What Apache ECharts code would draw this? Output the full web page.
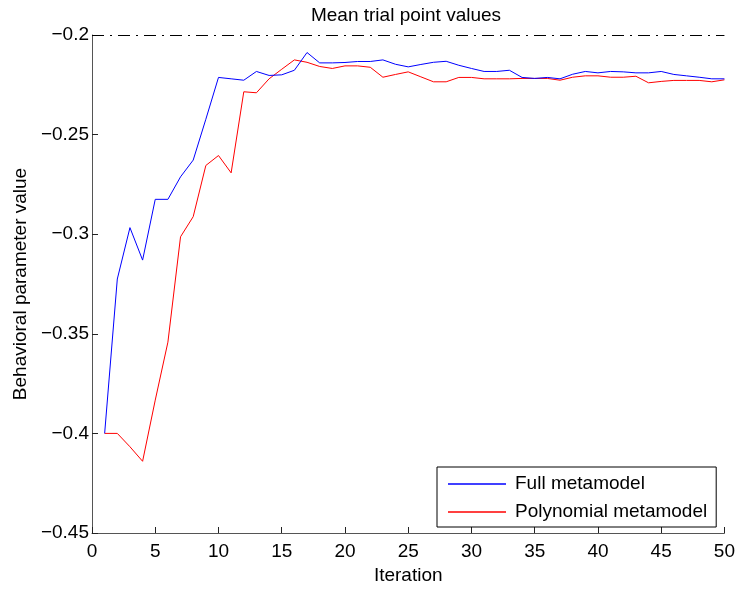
<!DOCTYPE html>
<html>
<head>
<meta charset="utf-8">
<script src="https://cdn.jsdelivr.net/npm/echarts@6/dist/echarts.min.js"></script>
<style>
  html, body { margin: 0; padding: 0; background: #fff; }
  #chart { width: 738px; height: 590px; }
</style>
</head>
<body>
<div id="chart"></div>
<script>
// Iterations 1..50
const iterations = Array.from({ length: 50 }, (_, i) => i + 1);

// Mean trial point value per iteration, full metamodel
const fullMetamodel = [
  -0.400, -0.3225, -0.2967, -0.3130, -0.2825, -0.2825, -0.2712, -0.2628, -0.2423, -0.2213,
  -0.2220, -0.2227, -0.2183, -0.2203, -0.2200, -0.2177, -0.2088, -0.2140, -0.2140, -0.2138,
  -0.2133, -0.2133, -0.2125, -0.2147, -0.2160, -0.2148, -0.2137, -0.2132, -0.2152, -0.2168,
  -0.2183, -0.2183, -0.2177, -0.2213, -0.2218, -0.2213, -0.2220, -0.2197, -0.2183, -0.2190,
  -0.2183, -0.2185, -0.2190, -0.2190, -0.2183, -0.2198, -0.2205, -0.2212, -0.2220, -0.2220
];

// Mean trial point value per iteration, polynomial metamodel
const polyMetamodel = [
  -0.400, -0.400, -0.4067, -0.4140, -0.3833, -0.3542, -0.3013, -0.2912, -0.2655, -0.2605,
  -0.2692, -0.2285, -0.2290, -0.2220, -0.2172, -0.2125, -0.2137, -0.2158, -0.2168, -0.2155,
  -0.2155, -0.2162, -0.2212, -0.2198, -0.2185, -0.2210, -0.2235, -0.2235, -0.2213, -0.2213,
  -0.2220, -0.2220, -0.2220, -0.2218, -0.2218, -0.2218, -0.2227, -0.2212, -0.2205, -0.2205,
  -0.2212, -0.2212, -0.2207, -0.2240, -0.2233, -0.2228, -0.2228, -0.2228, -0.2235, -0.2225
];

// Dash-dot reference level
const referenceLevel = -0.2;

const seriesNames = ['Full metamodel', 'Polynomial metamodel'];

const FONT = 'Liberation Sans, Arial, Helvetica, sans-serif';
const FS = 19;
const pairs = vals => iterations.map((x, i) => [x, vals[i]]);
const fmtNum = v => String(parseFloat(v.toFixed(2))).replace('-', '\u2212');

const chart = echarts.init(document.getElementById('chart'), null, { renderer: 'canvas' });

chart.setOption({
  animation: false,
  backgroundColor: '#ffffff',
  title: {
    text: 'Mean trial point values',
    left: 401, top: 1, textAlign: 'center',
    textStyle: { fontFamily: FONT, fontSize: FS, fontWeight: 'normal', color: '#000' }
  },
  grid: { left: 92, right: 13, top: 35, bottom: 56, containLabel: false },
  xAxis: {
    type: 'value', min: 0, max: 50, interval: 5,
    name: 'Iteration', nameLocation: 'middle', nameGap: 33,
    nameTextStyle: { fontFamily: FONT, fontSize: FS, color: '#000' },
    axisLine: { show: true, lineStyle: { color: '#555', width: 1 } },
    axisTick: { show: true, inside: true, length: 6, lineStyle: { color: '#222' } },
    axisLabel: { fontFamily: FONT, fontSize: FS, color: '#000', margin: 9 },
    splitLine: { show: false }
  },
  yAxis: {
    type: 'value', min: -0.45, max: -0.2, interval: 0.05,
    name: 'Behavioral parameter value', nameLocation: 'middle', nameGap: 61, nameRotate: 90,
    nameTextStyle: { fontFamily: FONT, fontSize: FS, color: '#000' },
    axisLine: { show: true, lineStyle: { color: '#555', width: 1 } },
    axisTick: { show: true, inside: true, length: 6, lineStyle: { color: '#222' } },
    axisLabel: { fontFamily: FONT, fontSize: FS, color: '#000', margin: 3, formatter: fmtNum },
    splitLine: { show: false }
  },
  legend: {
    orient: 'vertical',
    left: 437, top: 467,
    data: seriesNames,
    icon: 'rect',
    backgroundColor: '#fff',
    borderColor: '#000', borderWidth: 1,
    padding: [6, 9, 4, 11],
    itemGap: 6,
    itemWidth: 58, itemHeight: 1.3,
    textStyle: { fontFamily: FONT, fontSize: FS, color: '#000', padding: [0, 0, 0, 4], lineHeight: 22 }
  },
  series: [
    {
      name: seriesNames[0], type: 'line', data: pairs(fullMetamodel),
      symbol: 'none', color: '#0000ff', lineStyle: { width: 1, color: '#0000ff' },
      markLine: {
        silent: true, symbol: 'none', label: { show: false },
        lineStyle: { color: '#000', width: 1, type: [12, 6, 2, 6] },
        data: [{ yAxis: referenceLevel }]
      },
      z: 3
    },
    {
      name: seriesNames[1], type: 'line', data: pairs(polyMetamodel),
      symbol: 'none', color: '#ff0000', lineStyle: { width: 1, color: '#ff0000' },
      z: 2
    }
  ]
});
</script>
</body>
</html>
